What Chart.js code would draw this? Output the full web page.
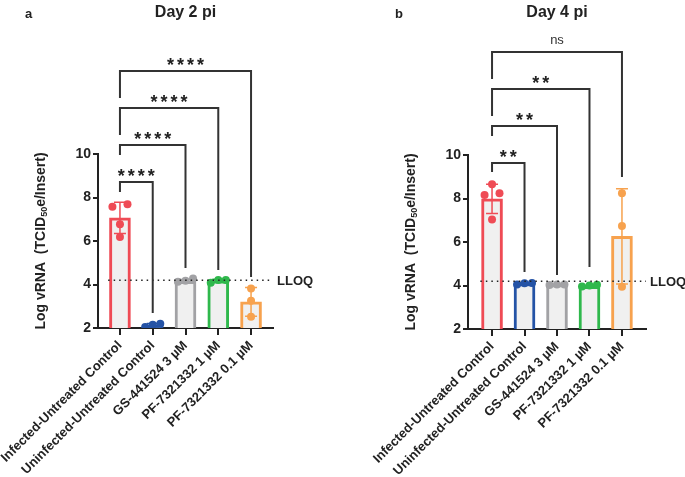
<!DOCTYPE html>
<html>
<head>
<meta charset="utf-8">
<script src="https://cdn.jsdelivr.net/npm/chart.js@4.4.0/dist/chart.umd.min.js"></script>
<style>
  body { margin: 0; background: #fff; }
  .panel { position: absolute; top: 0; }
</style>
</head>
<body>
<div class="panel" style="left:0"><canvas id="day2" width="342" height="477"></canvas></div>
<div class="panel" style="left:342px"><canvas id="day4" width="343" height="477"></canvas></div>
<script>
// groups on the x axis
const categories = [
  "Infected-Untreated Control",
  "Uninfected-Untreated Control",
  "GS-441524 3 \u00b5M",
  "PF-7321332 1 \u00b5M",
  "PF-7321332 0.1 \u00b5M"
];
const yTicks = [2, 4, 6, 8, 10];
const lloq = 4.2;

// Day 2 pi
const day2Means = [7.06, 2.13, 4.15, 4.17, 3.2];
const day2Sd = [0.72, 0.08, 0.08, 0.07, 0.66];
const day2Points = [
  [7.58, 7.69, 6.77, 6.18],
  [2.05, 2.15, 2.2],
  [4.13, 4.28, 4.17],
  [4.08, 4.21, 4.21],
  [3.82, 3.25, 2.52]
];
const day2Stars = ["****", "****", "****", "****"];

// Day 4 pi
const day4Means = [7.98, 4.09, 4.04, 3.96, 6.26];
const day4Sd = [0.67, 0.04, 0.02, 0.04, 2.19];
const day4Points = [
  [8.24, 8.65, 8.16, 7.04],
  [4.05, 4.1, 4.12],
  [4.02, 4.05, 4.05],
  [3.95, 4.0, 4.03],
  [8.24, 6.74, 3.94]
];
const day4Stars = ["**", "**", "**", "ns"];

const colors = ["#ef4b55", "#2453a6", "#a2a2a5", "#2fb84c", "#f7a24e"];
const ink = "#222";

// spread overlapping dots sideways, like a column scatter
function dodge(values) {
  const idx = values.map((v, i) => i).sort((a, b) => values[a] - values[b]);
  const off = new Array(values.length).fill(0);
  let cluster = [idx[0]];
  const flush = () => {
    const n = cluster.length;
    cluster.forEach((k, j) => { off[k] = n > 1 ? -0.23 + 0.46 * j / (n - 1) : 0; });
  };
  for (let j = 1; j < idx.length; j++) {
    if (values[idx[j]] - values[idx[j - 1]] < 0.37) cluster.push(idx[j]);
    else { flush(); cluster = [idx[j]]; }
  }
  flush();
  return off;
}

const panelPlugin = {
  id: "panelPlugin",
  afterDatasetDraw(chart, args, o) {
    if (args.index !== 0) return;
    const ctx = chart.ctx, x = chart.scales.x, y = chart.scales.y;
    ctx.save();
    ctx.lineWidth = 1.5;
    o.means.forEach((m, i) => {
      const px = x.getPixelForValue(i);
      const t = y.getPixelForValue(m + o.sd[i]), b = y.getPixelForValue(m - o.sd[i]);
      ctx.strokeStyle = colors[i];
      ctx.beginPath();
      ctx.moveTo(px, t); ctx.lineTo(px, b);
      ctx.moveTo(px - 6, t); ctx.lineTo(px + 6, t);
      ctx.moveTo(px - 6, b); ctx.lineTo(px + 6, b);
      ctx.stroke();
    });
    ctx.restore();
  },
  afterDraw(chart, args, o) {
    const ctx = chart.ctx, x = chart.scales.x, y = chart.scales.y;
    const area = chart.chartArea;
    ctx.save();
    // y axis line, only over the tick range
    ctx.strokeStyle = ink;
    ctx.lineWidth = 2;
    ctx.beginPath();
    ctx.moveTo(area.left, y.getPixelForValue(yTicks[yTicks.length - 1]) - 1);
    ctx.lineTo(area.left, y.bottom + 1);
    ctx.stroke();

    // LLOQ
    const ly = y.getPixelForValue(lloq);
    ctx.setLineDash([1.5, 4]);
    ctx.lineWidth = 1.5;
    ctx.beginPath();
    ctx.moveTo(x.getPixelForValue(-0.36), ly);
    ctx.lineTo(area.right, ly);
    ctx.stroke();
    ctx.setLineDash([]);
    ctx.fillStyle = ink;
    ctx.font = "bold 13px 'Liberation Sans', Arial, sans-serif";
    ctx.textBaseline = "middle";
    ctx.textAlign = "left";
    ctx.fillText("LLOQ", area.right + 4, ly + 1);

    // comparison brackets
    ctx.lineWidth = 2;
    ctx.strokeStyle = "#333";
    o.brackets.forEach((br, k) => {
      const x0 = x.getPixelForValue(0), x1 = x.getPixelForValue(br.to);
      const top = y.getPixelForValue(br.top);
      ctx.beginPath();
      ctx.moveTo(x0, y.getPixelForValue(br.left));
      ctx.lineTo(x0, top);
      ctx.lineTo(x1, top);
      ctx.lineTo(x1, y.getPixelForValue(br.right));
      ctx.stroke();
      const lab = o.labels[k];
      ctx.textAlign = "center";
      ctx.textBaseline = "alphabetic";
      if (lab === "ns") {
        ctx.font = "13px 'Liberation Sans', Arial, sans-serif";
        ctx.fillStyle = "#333";
        ctx.fillText(lab, (x0 + x1) / 2, top - 8);
      } else {
        ctx.font = "bold 18px 'Liberation Sans', Arial, sans-serif";
        ctx.letterSpacing = "3px";
        ctx.fillStyle = ink;
        ctx.fillText(lab, (x0 + x1) / 2 + 1.5, top);
        ctx.letterSpacing = "0px";
      }
    });

    // titles
    ctx.fillStyle = ink;
    ctx.textAlign = "center";
    ctx.textBaseline = "middle";
    ctx.font = "bold 16px 'Liberation Sans', Arial, sans-serif";
    ctx.fillText(o.title, (area.left + area.right) / 2, 13);
    ctx.textAlign = "left";
    ctx.font = "bold 13px 'Liberation Sans', Arial, sans-serif";
    ctx.fillText(o.letter, area.left - 73, 14);

    // y title with subscript
    const cy = (y.getPixelForValue(yTicks[0]) + y.getPixelForValue(yTicks[yTicks.length - 1])) / 2;
    ctx.translate(area.left - 57, cy);
    ctx.rotate(-Math.PI / 2);
    const big = "bold 14px 'Liberation Sans', Arial, sans-serif";
    const small = "bold 9px 'Liberation Sans', Arial, sans-serif";
    const parts = [["Log vRNA  (TCID", big, 0], ["50", small, 4], ["e/Insert)", big, 0]];
    let w = 0;
    parts.forEach(p => { ctx.font = p[1]; w += ctx.measureText(p[0]).width; });
    let cx = -w / 2;
    ctx.textAlign = "left";
    ctx.textBaseline = "middle";
    parts.forEach(p => {
      ctx.font = p[1];
      ctx.fillText(p[0], cx, p[2]);
      cx += ctx.measureText(p[0]).width;
    });
    ctx.restore();
  }
};

function makePanel(id, means, sd, points, labels, brackets, title, letter, geo) {
  const scatter = [], pointColors = [];
  points.forEach((vals, i) => {
    const off = dodge(vals);
    vals.forEach((v, j) => {
      scatter.push({ x: i + off[j], y: v });
      pointColors.push(colors[i]);
    });
  });
  const tickFont = { family: "'Liberation Sans', Arial, sans-serif", weight: "bold" };
  return new Chart(document.getElementById(id), {
    type: "bar",
    data: {
      datasets: [
        {
          type: "bar",
          data: means.map((m, i) => ({ x: i, y: m })),
          backgroundColor: "#f0f0f0",
          borderColor: colors,
          borderWidth: 3,
          barThickness: 21,
          order: 2
        },
        {
          type: "scatter",
          data: scatter,
          pointRadius: 4,
          pointBackgroundColor: pointColors,
          pointBorderWidth: 0,
          order: 1
        }
      ]
    },
    options: {
      responsive: false,
      animation: false,
      layout: { padding: { left: 0, right: geo.right, top: geo.top, bottom: 0 } },
      plugins: {
        legend: { display: false },
        tooltip: { enabled: false },
        panelPlugin: { means, sd, brackets, labels, title, letter }
      },
      scales: {
        x: {
          type: "linear",
          offset: false,
          min: geo.xMin,
          max: geo.xMax,
          afterBuildTicks: s => { s.ticks = categories.map((c, i) => ({ value: i })); },
          afterFit: s => { s.height = geo.xHeight; s.paddingLeft = 0; s.paddingRight = 0; },
          ticks: {
            callback: v => categories[v],
            minRotation: 45,
            maxRotation: 45,
            padding: 3,
            color: ink,
            font: Object.assign({ size: 13 }, tickFont)
          },
          grid: { offset: false, drawOnChartArea: false, drawTicks: true, tickLength: 7, lineWidth: 2, color: ink },
          border: { display: true, width: 2, color: ink }
        },
        y: {
          min: 2,
          max: geo.yMax,
          afterBuildTicks: s => { s.ticks = yTicks.map(v => ({ value: v })); },
          afterFit: s => { s.width = geo.yWidth; s.paddingTop = 0; s.paddingBottom = 0; },
          ticks: { padding: 2, color: ink, font: Object.assign({ size: 14 }, tickFont) },
          grid: { drawOnChartArea: false, drawTicks: true, tickLength: 5, lineWidth: 2, color: ink },
          border: { display: false }
        }
      }
    },
    plugins: [panelPlugin]
  });
}

makePanel("day2", day2Means, day2Sd, day2Points, day2Stars, [
  { to: 1, top: 8.71, left: 8.25, right: 2.69 },
  { to: 2, top: 10.41, left: 9.95, right: 4.76 },
  { to: 3, top: 12.11, left: 10.87, right: 4.67 },
  { to: 4, top: 13.82, left: 12.57, right: 4.34 }
], "Day 2 pi", "a", { right: 69, top: 45.25, yMax: 15, xMin: -0.67, xMax: 4.67, xHeight: 149, yWidth: 98 });

makePanel("day4", day4Means, day4Sd, day4Points, day4Stars, [
  { to: 1, top: 9.63, left: 9.22, right: 4.62 },
  { to: 2, top: 11.33, left: 10.87, right: 4.48 },
  { to: 3, top: 13.03, left: 11.79, right: 4.85 },
  { to: 4, top: 14.74, left: 13.49, right: 8.99 }
], "Day 4 pi", "b", { right: 39, top: 24.5, yMax: 16, xMin: -0.74, xMax: 4.74, xHeight: 148, yWidth: 126 });
</script>
</body>
</html>
